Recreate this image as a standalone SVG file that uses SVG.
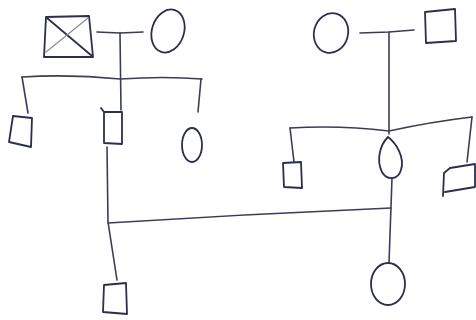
<svg xmlns="http://www.w3.org/2000/svg" width="476" height="320" viewBox="0 0 476 320">
  <style>
    .ink { fill: none; stroke: #2c2f4c; stroke-width: 1.8; stroke-linecap: round; stroke-linejoin: round; }
    .faint { fill: none; stroke: #8a8ca0; stroke-width: 1.2; stroke-linecap: round; }
    .line { fill: none; stroke: #3a3d58; stroke-width: 1.6; stroke-linecap: round; stroke-linejoin: round; }
  </style>
  <rect width="476" height="320" fill="#ffffff"/>

  <!-- connectors: partnership, descent and sibship lines -->
  <g id="connectors">
    <path class="line" d="M97,32 L120,33 L143,32"/>
    <path class="line" d="M120,33 L121,110"/>
    <path class="line" d="M22,77 Q70,74 120,79 Q165,76 202,79"/>
    <path class="line" d="M22,77 L28,113"/>
    <path class="line" d="M201,79 L198,112"/>
    <path class="line" d="M360,33 L389,32 L414,30"/>
    <path class="line" d="M389,32 L389,134"/>
    <path class="line" d="M290,128 Q340,125 389,131 Q430,122 472,117"/>
    <path class="line" d="M290,128 L294,162"/>
    <path class="line" d="M472,117 L467,162"/>
    <path class="line" d="M107,147 L108,222 L117,280"/>
    <path class="line" d="M108,223 Q250,214 391,208"/>
    <path class="line" d="M392,178 L389,263"/>
  </g>

  <!-- paternal grandfather (deceased) -->
  <g id="paternal-grandfather">
    <path class="ink" d="M46,17 L89,16 L93,57 L44,57 Z"/>
    <path class="ink" d="M47,18 L92,56"/>
    <path class="faint" d="M88,18 L46,52"/>
  </g>

  <g id="paternal-grandmother">
    <ellipse class="ink" cx="168" cy="31" rx="16" ry="22" transform="rotate(18 168 31)"/>
  </g>

  <g id="paternal-uncle">
    <path class="ink" d="M13,116 L32,118 L31,147 L9,142 Z"/>
  </g>

  <g id="father">
    <path class="ink" d="M104,112 L122,112 L122,144 L104,143 Z M104,112 L101,108"/>
  </g>

  <g id="paternal-aunt">
    <ellipse class="ink" cx="192" cy="145" rx="10" ry="17"/>
  </g>

  <g id="maternal-grandmother">
    <ellipse class="ink" cx="331" cy="33" rx="17" ry="20" transform="rotate(15 331 33)"/>
  </g>

  <g id="maternal-grandfather">
    <path class="ink" d="M425,12 L455,9 L456,41 L426,43 Z"/>
  </g>

  <g id="maternal-uncle">
    <path class="ink" d="M283,163 L301,162 L302,188 L284,187 Z"/>
  </g>

  <g id="mother">
    <path class="ink" d="M388,137 C380,145 376,160 382,172 C387,181 398,180 401,170 C405,157 396,143 388,137 Z"/>
  </g>

  <g id="maternal-uncle-2">
    <path class="ink" d="M444,173 L450,168 L475,164 L475,187 L445,192 M444,173 L443,196"/>
  </g>

  <g id="son">
    <path class="ink" d="M104,285 L126,283 L127,314 L103,312 Z"/>
  </g>

  <g id="daughter">
    <ellipse class="ink" cx="388" cy="284" rx="17" ry="21"/>
  </g>
</svg>
